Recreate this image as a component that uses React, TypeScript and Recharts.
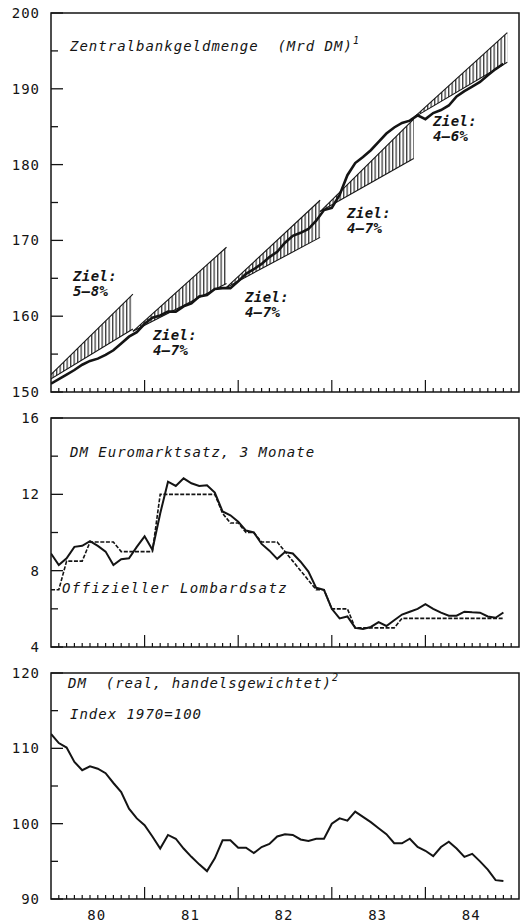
import React from 'react';
import { ComposedChart, LineChart, Line, Area, XAxis, YAxis, ReferenceArea } from 'recharts';

// month index: 0 = Jan 1980 ... 58 = Nov 1984
const monthIndex = Array.from({ length: 59 }, (_, i) => i);
const monthTicks = Array.from({ length: 61 }, (_, i) => i);
const yearLabels = ['80', '81', '82', '83', '84'];

// Zentralbankgeldmenge (Mrd DM)
const moneyStock = [
  151.1, 151.7, 152.3, 152.9, 153.6, 154.1, 154.4, 154.9, 155.5, 156.4,
  157.3, 157.9, 159.0, 159.8, 160.1, 160.6, 160.6, 161.3, 161.7, 162.6,
  162.8, 163.6, 163.7, 163.7, 164.6, 165.6, 166.2, 166.9, 167.8, 168.5,
  169.7, 170.6, 171.0, 171.5, 172.6, 174.0, 174.3, 176.0, 178.6, 180.2,
  181.0, 181.9, 183.0, 184.1, 184.9, 185.5, 185.8, 186.5, 186.0, 186.8,
  187.2, 187.8, 189.0, 189.7, 190.3, 190.9, 191.8, 192.6, 193.3,
];

// Target corridors (Ziel)
const fanStart = [-1.5, 10.5, 22.5, 34.5, 46.5];
const fanEnd = [10.5, 22.5, 34.5, 46.5, 58.5];
const fanBase = [150.8, 158.0, 163.8, 173.8, 186.2];
const fanLowEnd = [158.3, 164.3, 170.4, 180.8, 193.5];
const fanHighEnd = [162.9, 169.1, 175.3, 186.0, 197.4];
const targetLabels = ['5–8%', '4–7%', '4–7%', '4–7%', '4–6%'];

// DM Euromarktsatz, 3 Monate
const euroRate = [
  8.9, 8.3, 8.65, 9.25, 9.3, 9.55, 9.3, 9.0, 8.3, 8.6,
  8.65, 9.25, 9.8, 9.1, 11.0, 12.66, 12.44, 12.84, 12.58, 12.44,
  12.48, 12.09, 11.1, 10.9, 10.57, 10.1, 10.0, 9.4, 9.05, 8.62,
  8.98, 8.9, 8.47, 7.95, 7.1, 7.0, 6.0, 5.5, 5.6, 5.0,
  4.95, 5.05, 5.3, 5.1, 5.4, 5.7, 5.85, 6.0, 6.24, 6.0,
  5.8, 5.64, 5.64, 5.85, 5.82, 5.8, 5.6, 5.53, 5.81,
];

// Offizieller Lombardsatz
const lombardRate = [
  7.0, 7.0, 8.5, 8.5, 8.5, 9.5, 9.5, 9.5, 9.5, 9.0,
  9.0, 9.0, 9.0, 9.0, 12.0, 12.0, 12.0, 12.0, 12.0, 12.0,
  12.0, 12.0, 11.0, 10.5, 10.5, 10.0, 10.0, 9.5, 9.5, 9.5,
  9.0, 8.5, 8.0, 7.5, 7.0, 7.0, 6.0, 6.0, 6.0, 5.0,
  5.0, 5.0, 5.0, 5.0, 5.0, 5.5, 5.5, 5.5, 5.5, 5.5,
  5.5, 5.5, 5.5, 5.5, 5.5, 5.5, 5.5, 5.5, 5.5,
];

// DM real, handelsgewichtet, Index 1970=100
const dmReal = [
  111.9, 110.7, 110.1, 108.2, 107.1, 107.6, 107.3, 106.7, 105.4, 104.2,
  102.0, 100.7, 99.8, 98.3, 96.7, 98.5, 98.0, 96.7, 95.6, 94.6,
  93.7, 95.4, 97.8, 97.8, 96.8, 96.8, 96.1, 96.9, 97.3, 98.3,
  98.6, 98.5, 97.9, 97.7, 98.0, 98.0, 100.0, 100.7, 100.4, 101.6,
  100.9, 100.2, 99.4, 98.6, 97.4, 97.4, 98.0, 96.9, 96.4, 95.7,
  96.9, 97.6, 96.7, 95.6, 96.0, 95.0, 93.9, 92.5, 92.4,
];

const topTicks = [150, 155, 160, 165, 170, 175, 180, 185, 190, 195, 200];
const midTicks = [4, 6, 8, 10, 12, 14, 16];
const botTicks = [90, 95, 100, 105, 110, 115, 120];

const INK = '#141414';
const TICK_FONT = "'DejaVu Sans Mono', 'Liberation Mono', monospace";
const LABEL_FONT = "'DejaVu Sans Mono', 'Liberation Mono', monospace";

const topData = monthIndex.map((m) => ({ x: m, money: moneyStock[m] }));
const fanData = fanStart.map((s, i) => [
  { x: s, band: [fanBase[i], fanBase[i]] },
  { x: fanEnd[i], band: [fanLowEnd[i], fanHighEnd[i]] },
]);
const midData = monthIndex.map((m) => ({ x: m, euro: euroRate[m], lombard: lombardRate[m] }));
const botData = monthIndex.map((m) => ({ x: m, dm: dmReal[m] }));

function makeYTick(majorStep: number) {
  return (props: any) => {
    const { x, y, payload } = props;
    const v = payload.value as number;
    const major = Math.abs(v / majorStep - Math.round(v / majorStep)) < 1e-6;
    return (
      <g>
        <line x1={x} x2={x + (major ? 12 : 7)} y1={y} y2={y} stroke={INK} strokeWidth={1.3} />
        {major && (
          <text x={x - 11} y={y} dy={5} textAnchor="end" fontFamily={TICK_FONT} fontSize={14}
            letterSpacing={1} fill={INK}>
            {v}
          </text>
        )}
      </g>
    );
  };
}

function makeXTick(showLabels: boolean) {
  return (props: any) => {
    const { x, y, payload } = props;
    const v = payload.value as number;
    const isYear = v % 12 === 0;
    const len = v === 0 || v === 60 ? 0 : isYear ? 12 : 4;
    return (
      <g>
        {len > 0 && <line x1={x} x2={x} y1={y} y2={y - len} stroke={INK} strokeWidth={1.2} />}
        {showLabels && v % 12 === 6 && (
          <text x={x - 1} y={y + 21} textAnchor="middle" fontFamily={TICK_FONT} fontSize={14}
            letterSpacing={1} fill={INK}>
            {yearLabels[(v - 6) / 12]}
          </text>
        )}
      </g>
    );
  };
}

const xTickPlain = makeXTick(false);
const xTickLabeled = makeXTick(true);
const yTick10 = makeYTick(10);
const yTick4 = makeYTick(4);

const axisCommon = {
  tickLine: false,
  axisLine: false,
  tickSize: 0,
  tickMargin: 0,
  interval: 0 as const,
  allowDataOverflow: true,
};

const titleStyle = {
  fontFamily: LABEL_FONT,
  fontStyle: 'italic' as const,
  fontSize: 14,
  letterSpacing: 1,
  fill: INK,
  style: { whiteSpace: 'pre' as const },
};

const zielStyle = {
  fontFamily: LABEL_FONT,
  fontStyle: 'italic' as const,
  fontWeight: 'bold' as const,
  fontSize: 14,
  letterSpacing: 0.4,
  fill: INK,
};

const zielPos = [
  { x: 73, y: 281 },
  { x: 153, y: 340 },
  { x: 245, y: 302 },
  { x: 347, y: 218 },
  { x: 433, y: 126 },
];

export default function App() {
  return (
    <div style={{ position: 'absolute', left: 0, top: 0, width: 524, height: 922, background: '#fff' }}>
      <svg width={0} height={0} style={{ position: 'absolute' }}>
        <defs>
          <pattern id="hatch" patternUnits="userSpaceOnUse" width={3.5} height={10}>
            <line x1={0.7} y1={0} x2={0.7} y2={10} stroke={INK} strokeWidth={1.1} />
          </pattern>
        </defs>
      </svg>

      <div style={{ position: 'absolute', left: 0, top: 0 }}>
        <ComposedChart width={524} height={400} data={topData} margin={{ top: 13, right: 5, bottom: 0, left: 11 }}>
          <XAxis dataKey="x" type="number" domain={[0, 60]} ticks={monthTicks} tick={xTickPlain} height={8} {...axisCommon} />
          <YAxis type="number" domain={[150, 200]} ticks={topTicks} tick={yTick10} width={40} {...axisCommon} />
          {fanData.map((d, i) => (
            <Area key={i} data={d} dataKey="band" type="linear" fill="url(#hatch)" fillOpacity={1}
              stroke={INK} strokeWidth={1.1} isAnimationActive={false} dot={false} activeDot={false} />
          ))}
          <Line dataKey="money" type="linear" stroke={INK} strokeWidth={2.6} dot={false}
            activeDot={false} isAnimationActive={false} />
          <ReferenceArea x1={0} x2={60} y1={150} y2={200} fill="none" stroke={INK} strokeWidth={1.5} />
        </ComposedChart>
      </div>

      <div style={{ position: 'absolute', left: 0, top: 400 }}>
        <LineChart width={524} height={255} data={midData} margin={{ top: 18, right: 5, bottom: 0, left: 11 }}>
          <XAxis dataKey="x" type="number" domain={[0, 60]} ticks={monthTicks} tick={xTickPlain} height={8} {...axisCommon} />
          <YAxis type="number" domain={[4, 16]} ticks={midTicks} tick={yTick4} width={40} {...axisCommon} />
          <Line dataKey="lombard" type="linear" stroke={INK} strokeWidth={1.6} strokeDasharray="4 1.6"
            dot={false} activeDot={false} isAnimationActive={false} />
          <Line dataKey="euro" type="linear" stroke={INK} strokeWidth={2} dot={false}
            activeDot={false} isAnimationActive={false} />
          <ReferenceArea x1={0} x2={60} y1={4} y2={16} fill="none" stroke={INK} strokeWidth={1.5} />
        </LineChart>
      </div>

      <div style={{ position: 'absolute', left: 0, top: 655 }}>
        <LineChart width={524} height={267} data={botData} margin={{ top: 18, right: 5, bottom: 0, left: 11 }}>
          <XAxis dataKey="x" type="number" domain={[0, 60]} ticks={monthTicks} tick={xTickLabeled} height={23} {...axisCommon} />
          <YAxis type="number" domain={[90, 120]} ticks={botTicks} tick={yTick10} width={40} {...axisCommon} />
          <Line dataKey="dm" type="linear" stroke={INK} strokeWidth={2} dot={false}
            activeDot={false} isAnimationActive={false} />
          <ReferenceArea x1={0} x2={60} y1={90} y2={120} fill="none" stroke={INK} strokeWidth={1.5} />
        </LineChart>
      </div>

      <svg width={524} height={922} style={{ position: 'absolute', left: 0, top: 0, pointerEvents: 'none' }}>
        <text x={70} y={51} {...titleStyle}>
          {'Zentralbankgeldmenge  (Mrd DM)'}<tspan dy={-7} fontSize={10}>1</tspan>
        </text>
        {zielPos.map((p, i) => (
          <g key={i}>
            <text x={p.x} y={p.y} {...zielStyle}>Ziel:</text>
            <text x={p.x} y={p.y + 15} {...zielStyle}>{targetLabels[i]}</text>
          </g>
        ))}
        <text x={70} y={457} {...titleStyle}>DM Euromarktsatz, 3 Monate</text>
        <text x={62} y={593} {...titleStyle} letterSpacing={1.4}>Offizieller Lombardsatz</text>
        <text x={68} y={688} {...titleStyle}>
          {'DM  (real, handelsgewichtet)'}<tspan dy={-7} fontSize={10}>2</tspan>
        </text>
        <text x={70} y={719} {...titleStyle}>Index 1970=100</text>
      </svg>
    </div>
  );
}
